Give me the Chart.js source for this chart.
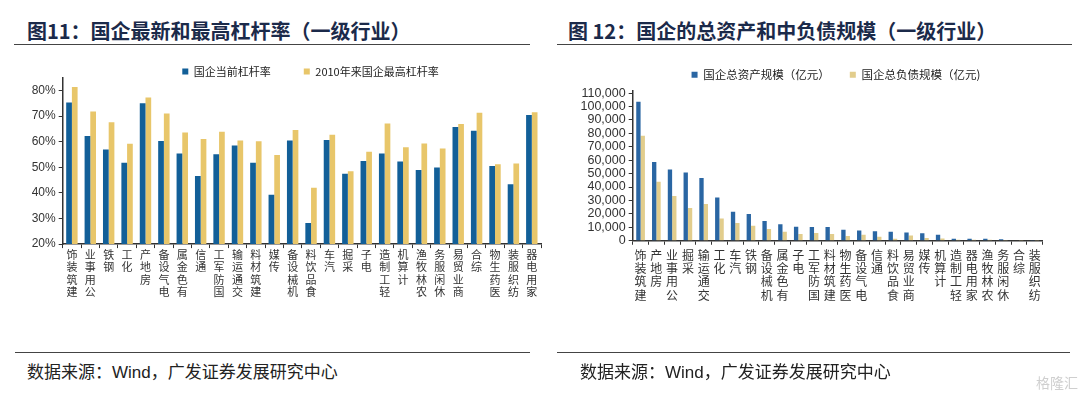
<!DOCTYPE html>
<html>
<head>
<meta charset="utf-8">
<script src="https://cdn.jsdelivr.net/npm/chart.js@4"></script>
<style>
  html, body { margin: 0; padding: 0; background: #fff; overflow: hidden; }
  body { width: 1080px; height: 398px; position: relative; font-family: "Noto Sans CJK SC", sans-serif; }
  .title { position: absolute; top: 16px; font-size: 20px; font-weight: bold; color: #1b2a4a; white-space: nowrap; }
  .rule { position: absolute; height: 0; border-top: 1.5px solid #444; }
  .source { position: absolute; top: 358px; font-size: 17px; color: #222; white-space: nowrap; }
  .source .en { font-family: "Liberation Sans", Arial, sans-serif; }
  .wm { position: absolute; left: 1036px; top: 372px; font-size: 14px; color: #cfcfcf; }
  canvas { position: absolute; }
</style>
</head>
<body>

<div class="title" style="left:27px">图11：国企最新和最高杠杆率（一级行业）</div>
<div class="rule" style="left:14px; width:516px; top:44px"></div>
<div class="title" style="left:568px">图 12：国企的总资产和中负债规模（一级行业）</div>
<div class="rule" style="left:557px; width:515px; top:44px"></div>

<canvas id="leverChart" style="left:14px; top:33px" width="593" height="315"></canvas>
<canvas id="scaleChart" style="left:567px; top:49px" width="538" height="299"></canvas>

<div class="rule" style="left:15px; width:515px; top:352px"></div>
<div class="rule" style="left:557px; width:513px; top:352px"></div>
<div class="source" style="left:27px">数据来源：<span class="en">Wind</span>，广发证券发展研究中心</div>
<div class="source" style="left:580px">数据来源：<span class="en">Wind</span>，广发证券发展研究中心</div>
<div class="wm">格隆汇</div>

<script>
	// 图11 – 杠杆率 (%)
	var leverCats = ['建筑装饰', '公用事业', '钢铁', '化工', '房地产', '电气设备', '有色金属', '通信', '国防军工',
		'交通运输', '建筑材料', '传媒', '机械设备', '食品饮料', '汽车', '采掘', '电子', '轻工制造', '计算机',
		'农林牧渔', '休闲服务', '商业贸易', '综合', '医药生物', '纺织服装', '家用电器'];
	var leverNow = [75.3, 62.3, 57.0, 51.8, 75.1, 60.3, 55.4, 46.6, 55.1, 58.5, 51.8, 39.3, 60.5,
		28.2, 60.7, 47.5, 52.5, 55.4, 52.3, 49.0, 49.9, 65.8, 64.3, 50.5, 43.4, 70.5];
	var leverMax = [81.4, 71.8, 67.6, 59.2, 77.3, 71.0, 63.6, 61.1, 63.9, 60.5, 60.2, 54.8, 64.6,
		42.0, 62.7, 48.5, 56.1, 67.1, 57.9, 59.3, 57.4, 66.9, 71.3, 51.2, 51.5, 71.5];
	var leverTicks = [20, 30, 40, 50, 60, 70, 80];

	// 图12 – 总资产 / 总负债 (亿元)
	var scaleCats = ['建筑装饰', '房地产', '公用事业', '采掘', '交通运输', '化工', '汽车', '钢铁', '机械设备',
		'有色金属', '电子', '国防军工', '建筑材料', '医药生物', '电气设备', '通信', '食品饮料', '商业贸易',
		'传媒', '计算机', '轻工制造', '家用电器', '农林牧渔', '休闲服务', '综合', '纺织服装'];
	var assets = [103500, 58600, 53100, 50900, 46700, 32300, 21600, 19900, 14700, 12300, 10500, 10300,
		10200, 8200, 7700, 7000, 6700, 6200, 5500, 4500, 1500, 1500, 1500, 1200, 300, 200];
	var debts = [78200, 44000, 33300, 24300, 27300, 16600, 13200, 11200, 8700, 6700, 5100, 5700,
		5000, 3500, 4500, 3000, 1500, 4000, 2000, 1700, 700, 800, 700, 500, 200, 100];
	var scaleTicks = [0, 10000, 20000, 30000, 40000, 50000, 60000, 70000, 80000, 90000, 100000, 110000];

	// 竖排标签：字符正立，自下而上读
	function vert(s) { return s.split('').reverse(); }

	var axisColor = '#333';
	var cjk = '"Noto Sans CJK SC", sans-serif';
	var latin = '"Liberation Sans", Arial, sans-serif';

	function padAxis(w) {
		// 空的右轴，只为让图例居中位置与原图一致
		return {
			type: 'linear', position: 'right', display: true,
			grid: { display: false }, border: { display: false }, ticks: { display: false },
			afterFit: function (s) { s.width = w; }
		};
	}

	new Chart(document.getElementById('leverChart'), {
		type: 'bar',
		data: {
			labels: leverCats.map(vert),
			datasets: [
				{ label: '国企当前杠杆率', data: leverNow, backgroundColor: '#125f98',
					categoryPercentage: 0.62, barPercentage: 1 },
				{ label: '2010年来国企最高杠杆率', data: leverMax, backgroundColor: '#e8c66a',
					categoryPercentage: 0.62, barPercentage: 1 }
			]
		},
		options: {
			responsive: false,
			animation: false,
			layout: { padding: 0 },
			plugins: {
				legend: {
					position: 'top',
					maxHeight: 44.8,
					labels: { boxWidth: 6, boxHeight: 6, padding: 33, color: '#222',
						font: { size: 11, family: cjk } }
				},
				tooltip: { enabled: false }
			},
			scales: {
				x: {
					grid: { display: true, drawOnChartArea: false, tickLength: 4, color: axisColor, lineWidth: 1 },
					border: { color: axisColor, width: 1.5 },
					ticks: { autoSkip: false, maxRotation: 0, minRotation: 0, padding: 1, color: '#333',
						font: { size: 11, family: cjk, lineHeight: 1.1 } },
					afterFit: function (s) { s.height = 103.9; }
				},
				y: {
					min: 20, max: 85,
					afterBuildTicks: function (s) { s.ticks = leverTicks.map(function (v) { return { value: v }; }); },
					grid: { drawOnChartArea: false, tickLength: 4, color: axisColor },
					border: { color: axisColor, width: 1.5 },
					ticks: { autoSkip: false, padding: 3, color: '#333', font: { size: 12, family: latin },
						callback: function (v) { return v + '%'; } },
					afterFit: function (s) { s.width = 48.7; }
				},
				yPad: padAxis(66)
			}
		}
	});

	new Chart(document.getElementById('scaleChart'), {
		type: 'bar',
		data: {
			labels: scaleCats.map(vert),
			datasets: [
				{ label: '国企总资产规模（亿元）', data: assets, backgroundColor: '#2a66a3',
					categoryPercentage: 0.55, barPercentage: 1 },
				{ label: '国企总负债规模（亿元)', data: debts, backgroundColor: '#e2cd8c',
					categoryPercentage: 0.55, barPercentage: 1 }
			]
		},
		options: {
			responsive: false,
			animation: false,
			layout: { padding: 0 },
			plugins: {
				legend: {
					position: 'top',
					labels: { boxWidth: 6, boxHeight: 6, padding: 20, color: '#222',
						font: { size: 11.5, family: cjk } }
				},
				tooltip: { enabled: false }
			},
			scales: {
				x: {
					grid: { display: true, drawOnChartArea: false, tickLength: 4, color: axisColor, lineWidth: 1 },
					border: { color: axisColor, width: 1.5 },
					ticks: { autoSkip: false, maxRotation: 0, minRotation: 0, padding: 4, color: '#333',
						font: { size: 12, family: cjk, lineHeight: 1.1 } },
					afterFit: function (s) { s.height = 107.25; }
				},
				y: {
					min: 0, max: 111900,
					afterBuildTicks: function (s) { s.ticks = scaleTicks.map(function (v) { return { value: v }; }); },
					grid: { drawOnChartArea: false, tickLength: 4, color: axisColor },
					border: { color: axisColor, width: 1.5 },
					ticks: { autoSkip: false, padding: 3, color: '#333', font: { size: 12.5, family: latin },
						callback: function (v) { return v.toLocaleString('en-US'); } },
					afterFit: function (s) { s.width = 65.7; }
				},
				yPad: padAxis(62.3)
			}
		}
	});
</script>
</body>
</html>
